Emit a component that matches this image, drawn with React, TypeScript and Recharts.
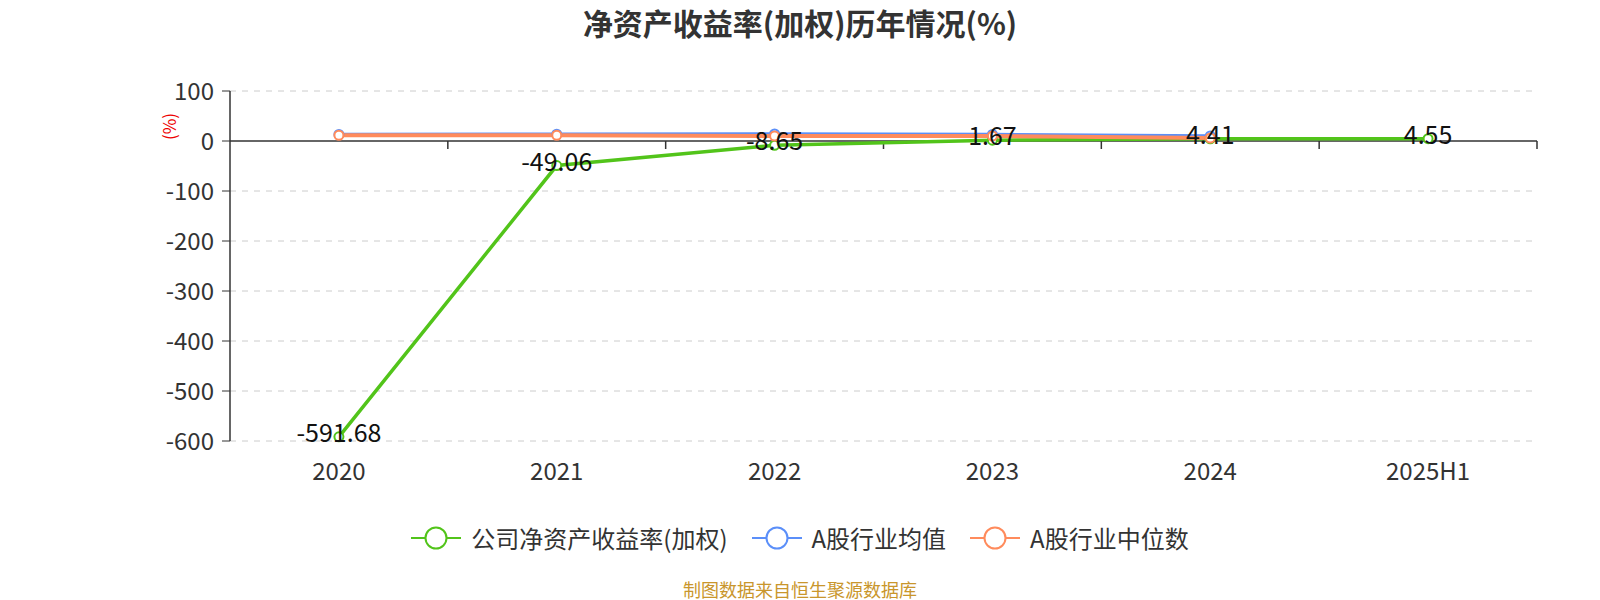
import React from "react";
import {
  LineChart,
  Line,
  XAxis,
  YAxis,
  CartesianGrid,
  ReferenceLine,
  LabelList,
} from "recharts";

const years = ["2020", "2021", "2022", "2023", "2024", "2025H1"];
const companyRoe = [-591.68, -49.06, -8.65, 1.67, 4.41, 4.55];
const industryAvg = [13, 13.5, 14, 13, 10, null];
const industryMedian = [11.5, 11.5, 10, 10, 6, null];
const yTicks = [-600, -500, -400, -300, -200, -100, 0, 100];

const seriesNames = ["公司净资产收益率(加权)", "A股行业均值", "A股行业中位数"];
const seriesColors = ["#52c41a", "#5b8ff9", "#ff8b5c"];

const data = years.map((y, i) => ({
  year: y,
  company: companyRoe[i],
  avg: industryAvg[i],
  median: industryMedian[i],
}));

const FONT = "'Noto Sans CJK SC', 'Noto Sans', sans-serif";

// zero axis line with tick marks at category boundaries (echarts style)
function ZeroAxis(props: any) {
  const { x1, x2, y1 } = props;
  const n = years.length;
  const step = (x2 - x1) / n;
  const ticks = [];
  for (let k = 1; k <= n; k++) {
    const x = x1 + k * step;
    ticks.push(<line key={k} x1={x} x2={x} y1={y1} y2={y1 + 8} stroke="#333" strokeWidth={1.5} />);
  }
  return (
    <g>
      <line x1={x1} x2={x2} y1={y1} y2={y1} stroke="#333" strokeWidth={1.5} />
      {ticks}
    </g>
  );
}

function ValueLabel(props: any) {
  const { x, y, value } = props;
  if (value == null) return null;
  return (
    <text
      x={x}
      y={y - 6}
      textAnchor="middle"
      dominantBaseline="central"
      fill="#111"
      fontSize={25}
      fontFamily={FONT}
    >
      {value}
    </text>
  );
}

function LegendItem({ name, color, last }: { name: string; color: string; last: boolean }) {
  return (
    <div style={{ display: "flex", alignItems: "center", marginRight: last ? 0 : 24 }}>
      <svg width={50} height={26} style={{ marginRight: 10 }}>
        <line x1={0} x2={50} y1={13} y2={13} stroke={color} strokeWidth={2} />
        <circle cx={25} cy={13} r={10.5} fill="#fff" stroke={color} strokeWidth={2} />
      </svg>
      <span style={{ fontSize: 24, lineHeight: "30px", color: "#333" }}>{name}</span>
    </div>
  );
}

const dotStyle = (c: string) => ({ r: 4.5, fill: "#fff", stroke: c, strokeWidth: 2 });

export default function App() {
  return (
    <div
      style={{
        position: "absolute",
        top: 0,
        left: 0,
        width: 1600,
        height: 600,
        background: "#fff",
        fontFamily: FONT,
      }}
    >
      <div
        style={{
          position: "absolute",
          top: 1,
          left: 0,
          width: 1600,
          textAlign: "center",
          fontSize: 30,
          lineHeight: "42px",
          fontWeight: 700,
          color: "#333",
        }}
      >
        净资产收益率(加权)历年情况(%)
      </div>
      <div
        style={{
          position: "absolute",
          left: 155,
          top: 114,
          transform: "rotate(-90deg)",
          color: "#e00",
          fontSize: 17,
        }}
      >
        (%)
      </div>
      <LineChart
        width={1600}
        height={600}
        data={data}
        margin={{ top: 91, right: 63, left: 170, bottom: 119 }}
      >
        <CartesianGrid
          vertical={false}
          stroke="#ccc"
          strokeDasharray="6 6"
          horizontalValues={yTicks.filter((t) => t !== 0)}
        />
        <XAxis
          dataKey="year"
          scale="band"
          axisLine={false}
          tickLine={false}
          height={40}
          tick={{ fill: "#333", fontSize: 24, fontFamily: FONT }}
          tickMargin={16}
        />
        <YAxis
          type="number"
          domain={[-600, 100]}
          ticks={yTicks}
          width={60}
          stroke="#333"
          tickSize={8}
          tickMargin={8}
          axisLine={{ stroke: "#333", strokeWidth: 1.5 }}
          tick={{ fill: "#333", fontSize: 24, fontFamily: FONT }}
          interval={0}
        />
        <ReferenceLine y={0} shape={<ZeroAxis />} />
        <Line
          dataKey="company"
          name={seriesNames[0]}
          stroke={seriesColors[0]}
          strokeWidth={3.5}
          dot={dotStyle(seriesColors[0])}
          isAnimationActive={false}
        >
          <LabelList dataKey="company" content={<ValueLabel />} />
        </Line>
        <Line
          dataKey="avg"
          name={seriesNames[1]}
          stroke={seriesColors[1]}
          strokeWidth={3.5}
          dot={dotStyle(seriesColors[1])}
          isAnimationActive={false}
        />
        <Line
          dataKey="median"
          name={seriesNames[2]}
          stroke={seriesColors[2]}
          strokeWidth={4}
          dot={dotStyle(seriesColors[2])}
          isAnimationActive={false}
        />
      </LineChart>
      <div
        style={{
          position: "absolute",
          top: 523,
          left: 0,
          width: 1600,
          display: "flex",
          justifyContent: "center",
        }}
      >
        {seriesNames.map((n, i) => (
          <LegendItem key={n} name={n} color={seriesColors[i]} last={i === seriesNames.length - 1} />
        ))}
      </div>
      <div
        style={{
          position: "absolute",
          top: 577,
          left: 0,
          width: 1600,
          textAlign: "center",
          fontSize: 18,
          lineHeight: "24px",
          color: "#c9962c",
        }}
      >
        制图数据来自恒生聚源数据库
      </div>
    </div>
  );
}
